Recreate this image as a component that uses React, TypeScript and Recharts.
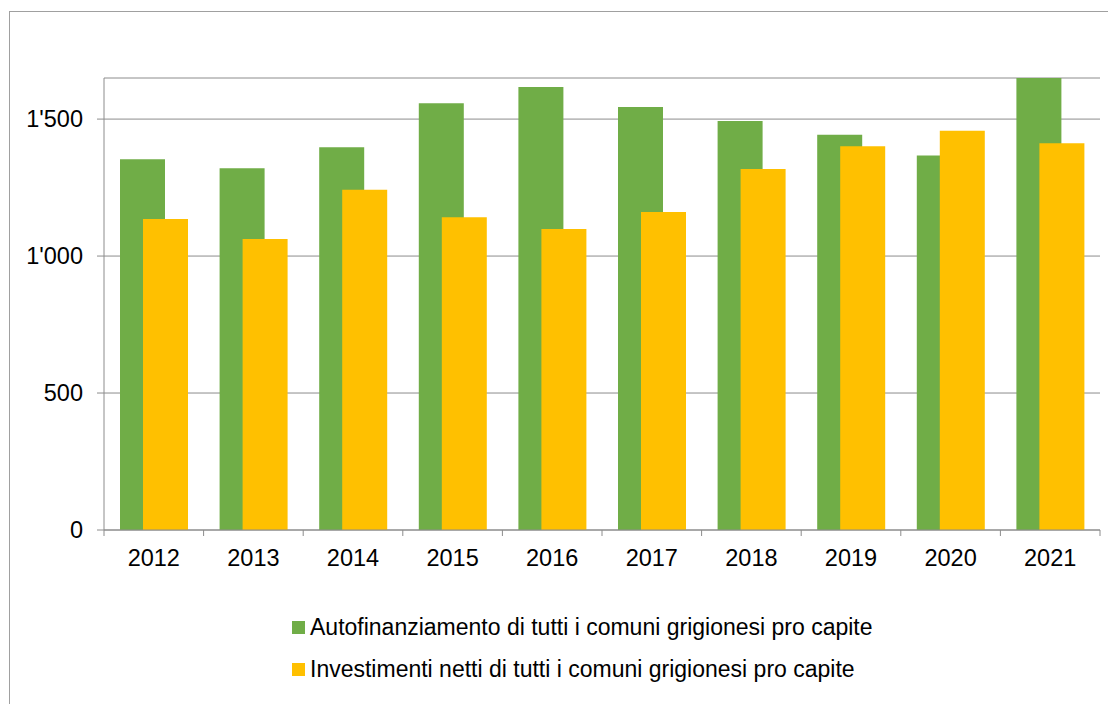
import React from 'react';
import {
  BarChart,
  Bar,
  XAxis,
  YAxis,
  CartesianGrid,
  Legend,
} from 'recharts';

// values (CHF per capita)
const years = ['2012', '2013', '2014', '2015', '2016', '2017', '2018', '2019', '2020', '2021'];
const autofinanziamento = [1353, 1321, 1397, 1558, 1617, 1544, 1493, 1443, 1367, 1650];
const investimenti = [1135, 1062, 1242, 1142, 1099, 1161, 1318, 1401, 1457, 1412];
const yTicks = [0, 500, 1000, 1500];

const seriesNames = [
  'Autofinanziamento di tutti i comuni grigionesi pro capite',
  'Investimenti netti di tutti i comuni grigionesi pro capite',
];
const seriesColors = ['#70AD47', '#FFC000'];

const data = years.map((year, i) => ({
  year,
  auto: autofinanziamento[i],
  inv: investimenti[i],
}));

const FONT = '"Liberation Sans", Arial, sans-serif';
const CHART_W = 1108;
const CHART_H = 696;
const MARGIN = { top: 70, right: 16, left: 36, bottom: 0 };
const Y_AXIS_W = 60;
const PLOT_W = CHART_W - MARGIN.left - MARGIN.right - Y_AXIS_W;
const BAND = PLOT_W / years.length;
const AXIS_COLOR = '#8c8c8c';

const fmt = (v: number) => (v >= 1000 ? `${Math.floor(v / 1000)}'${String(v % 1000).padStart(3, '0')}` : String(v));

// Excel-style category axis: ticks sit between the categories
const YearTick = (props: any) => {
  const { x, y, payload, index } = props;
  const left = x - BAND / 2;
  return (
    <g>
      <line x1={left} x2={left} y1={y} y2={y + 6} stroke={AXIS_COLOR} />
      {index === years.length - 1 && (
        <line x1={x + BAND / 2} x2={x + BAND / 2} y1={y} y2={y + 6} stroke={AXIS_COLOR} />
      )}
      <text x={x} y={y + 36} textAnchor="middle" fill="#000" fontSize={23.5} fontFamily={FONT}>
        {payload.value}
      </text>
    </g>
  );
};

const LegendBox = () => (
  <div style={{ fontFamily: FONT, fontSize: 23, color: '#000', whiteSpace: 'nowrap' }}>
    {seriesNames.map((name, i) => (
      <div key={name} style={{ display: 'flex', alignItems: 'center', height: 42 }}>
        <span style={{ width: 13, height: 13, background: seriesColors[i], marginRight: 5 }} />
        <span>{name}</span>
      </div>
    ))}
  </div>
);

const App: React.FC = () => {
  return (
    <div style={{ position: 'relative', width: CHART_W, height: CHART_H, overflow: 'hidden' }}>
      <div
        style={{
          position: 'absolute',
          left: 1,
          top: 3,
          width: 3000,
          height: 3000,
          borderTop: '1px solid #a0a0a0',
          borderLeft: '1px solid #a0a0a0',
        }}
      />
      <div style={{ position: 'absolute', left: 0, top: 0 }}>
        <BarChart
          width={CHART_W}
          height={CHART_H}
          data={data}
          margin={MARGIN}
          barSize={45}
          barGap={-22}
        >
          <CartesianGrid vertical={false} stroke={AXIS_COLOR} />
          <XAxis
            dataKey="year"
            height={CHART_H - MARGIN.top - 452}
            stroke={AXIS_COLOR}
            tickLine={false}
            tickSize={0}
            tickMargin={0}
            interval={0}
            tick={<YearTick />}
          />
          <YAxis
            width={Y_AXIS_W}
            domain={[0, 1650]}
            ticks={yTicks}
            allowDataOverflow
            stroke={AXIS_COLOR}
            tickSize={7}
            tickMargin={14}
            tickFormatter={fmt}
            tick={{ fill: '#000', fontSize: 23.5, fontFamily: FONT }}
          />
          <Legend
            layout="vertical"
            align="center"
            verticalAlign="middle"
            content={<LegendBox />}
            wrapperStyle={{ top: 598, left: 284, width: 'auto' }}
          />
          <Bar dataKey="auto" name={seriesNames[0]} fill={seriesColors[0]} isAnimationActive={false} />
          <Bar dataKey="inv" name={seriesNames[1]} fill={seriesColors[1]} isAnimationActive={false} />
        </BarChart>
      </div>
    </div>
  );
};

export default App;
